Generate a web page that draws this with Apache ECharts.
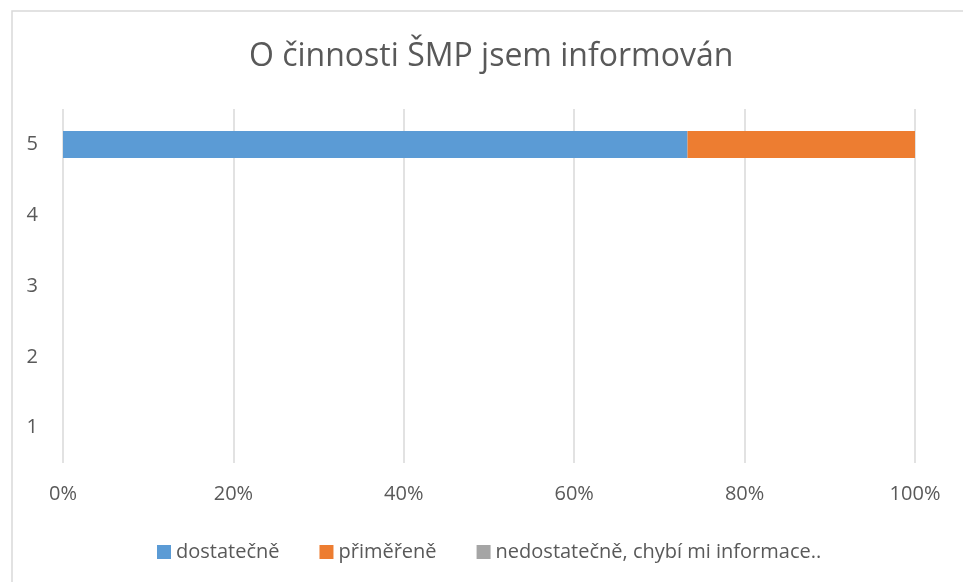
<!DOCTYPE html>
<html>
<head>
<meta charset="utf-8">
<script src="https://cdn.jsdelivr.net/npm/echarts@6/dist/echarts.min.js"></script>
<style>html,body{margin:0;padding:0;background:#fff}#c{width:963px;height:582px}</style>
</head>
<body>
<div id="c"></div>
<script>
var categories = ['1', '2', '3', '4', '5'];
var dostatecne = [0, 0, 0, 0, 73.3];
var primerene = [0, 0, 0, 0, 26.7];
var nedostatecne = [0, 0, 0, 0, 0];
var seriesNames = ['dostatečně', 'přiměřeně', 'nedostatečně, chybí mi informace..'];
var xTicks = [0, 20, 40, 60, 80, 100];

var font = 'Open Sans';
var chart = echarts.init(document.getElementById('c'));
chart.setOption({
  animation: false,
  color: ['#5b9bd5', '#ed7d31', '#a5a5a5'],
  graphic: [{
    type: 'rect', shape: {x: 12, y: 11, width: 1000, height: 640},
    style: {fill: 'none', stroke: '#d9d9d9', lineWidth: 1.5}, silent: true
  }],
  title: {
    text: 'O činnosti ŠMP jsem informován', left: 244, top: 36,
    textStyle: {fontFamily: font, fontSize: 32, fontWeight: 'normal', color: '#595959'}
  },
  legend: {
    top: 537, left: 152, itemWidth: 14, itemHeight: 14, itemGap: 40,
    icon: 'rect',
    textStyle: {fontFamily: font, fontSize: 20, color: '#595959'},
    data: seriesNames
  },
  grid: {left: 63, right: 48, top: 109, bottom: 119, containLabel: false},
  xAxis: {
    type: 'value', min: 0, max: 100, interval: 20,
    axisLine: {show: false}, axisTick: {show: false},
    axisLabel: {formatter: '{value}%', fontFamily: font, fontSize: 20, color: '#595959', margin: 21},
    splitLine: {lineStyle: {color: '#d9d9d9', width: 1.5}}
  },
  yAxis: {
    type: 'category', data: categories,
    axisLine: {show: false}, axisTick: {show: false},
    axisLabel: {fontFamily: font, fontSize: 20, color: '#595959', margin: 25}
  },
  series: [
    {name: seriesNames[0], type: 'bar', stack: 's', data: dostatecne, barWidth: 27},
    {name: seriesNames[1], type: 'bar', stack: 's', data: primerene, barWidth: 27},
    {name: seriesNames[2], type: 'bar', stack: 's', data: nedostatecne, barWidth: 27}
  ]
});
</script>
</body>
</html>
